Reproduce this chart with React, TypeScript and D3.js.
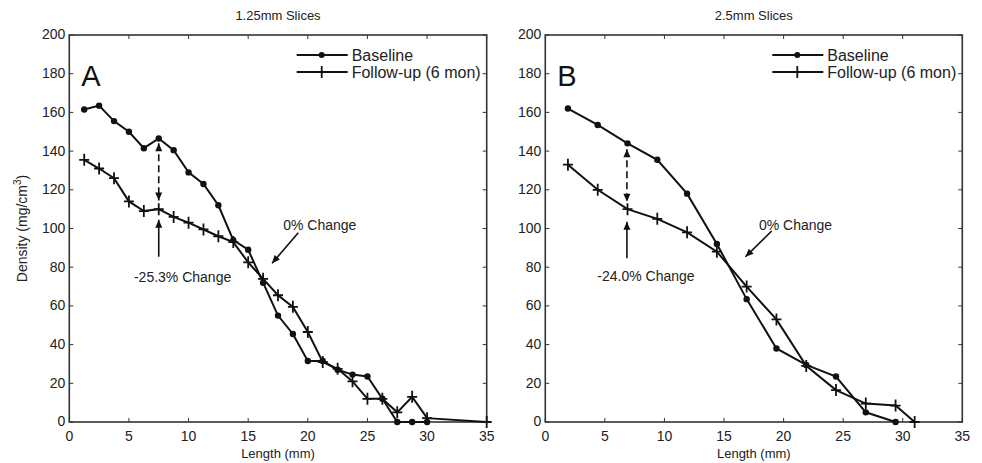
import { scaleLinear, line } from 'd3'

// values
const baseX_A = [1.25, 2.5, 3.75, 5, 6.25, 7.5, 8.75, 10, 11.25, 12.5, 13.75, 15, 16.25, 17.5, 18.75, 20, 21.25, 22.5, 23.75, 25, 26.25, 27.5, 28.75, 30]
const baseY_A = [161.5, 163.5, 155.5, 150, 141.5, 146.5, 140.5, 129, 123, 112, 94, 89, 72, 55, 45.5, 31.5, 31.5, 27, 24.5, 23.5, 12, 0, 0, 0]
const followX_A = [1.25, 2.5, 3.75, 5, 6.25, 7.5, 8.75, 10, 11.25, 12.5, 13.75, 15, 16.25, 17.5, 18.75, 20, 21.25, 22.5, 23.75, 25, 26.25, 27.5, 28.75, 30, 35]
const followY_A = [135.5, 131, 126, 114, 109, 110, 106, 103, 99.5, 96, 93, 82.5, 74, 65.5, 59.5, 46.5, 31, 27.5, 21, 12, 12, 5, 13, 2, 0]

const baseX_B = [1.9, 4.4, 6.9, 9.4, 11.9, 14.4, 16.9, 19.4, 21.9, 24.4, 26.9, 29.4]
const baseY_B = [162, 153.5, 144, 135.5, 118, 92, 63.5, 38, 29.5, 23.5, 5, 0]
const followX_B = [1.9, 4.4, 6.9, 9.4, 11.9, 14.4, 16.9, 19.4, 21.9, 24.4, 26.9, 29.4, 31]
const followY_B = [133, 120, 110, 105, 98, 88, 70, 53, 29, 16.5, 9.5, 8.5, 0]

const xTicks = [0, 5, 10, 15, 20, 25, 30, 35]
const yTicks = [0, 20, 40, 60, 80, 100, 120, 140, 160, 180, 200]
const legendLabels = ['Baseline', 'Follow-up (6 mon)']

const width = 982
const height = 463
const top = 35
const bottom = 422
const font = '"Liberation Sans", Arial, sans-serif'
const ink = '#111'
const grey = '#222'

type Pt = [number, number]
const zip = (xs: number[], ys: number[]): Pt[] => xs.map((x, i) => [x, ys[i]])

type PanelProps = {
    left: number
    right: number
    title: string
    letter: string
    base: Pt[]
    follow: Pt[]
    dashX: number
    dashTop: number
    dashBottom: number
    solidFrom: number
    solidTo: number
    changeLabel: string
    changeAt: Pt
    zeroFrom: Pt
    zeroTo: Pt
    zeroLabelAt: Pt
    yLabel?: boolean
}

let Arrow = ({ x1, y1, x2, y2, dashed, heads }: { x1: number, y1: number, x2: number, y2: number, dashed?: boolean, heads: 'end' | 'both' }) => {
    let ang = Math.atan2(y2 - y1, x2 - x1)
    let head = (x: number, y: number, a: number) => {
        let l = 8, w = 3.5
        let bx = x - l * Math.cos(a), by = y - l * Math.sin(a)
        let px = -Math.sin(a) * w, py = Math.cos(a) * w
        return `M${x},${y}L${bx + px},${by + py}L${bx - px},${by - py}Z`
    }
    return (
        <g>
            <line x1={x1} y1={y1} x2={x2} y2={y2} stroke={ink} strokeWidth={1.6}
                strokeDasharray={dashed ? '7,4' : undefined} />
            <path d={head(x2, y2, ang)} fill={ink} />
            {heads === 'both' && <path d={head(x1, y1, ang + Math.PI)} fill={ink} />}
        </g>
    )
}

let Panel = (p: PanelProps) => {
    let x = scaleLinear().domain([0, 35]).range([p.left, p.right])
    let y = scaleLinear().domain([0, 200]).range([bottom, top])
    let path = line<Pt>().x(d => x(d[0])).y(d => y(d[1]))
    let mid = (p.left + p.right) / 2

    let cross = (cx: number, cy: number, k: string) => (
        <path key={k} d={`M${cx - 5},${cy}H${cx + 5}M${cx},${cy - 6}V${cy + 6}`} stroke={ink} strokeWidth={1.8} />
    )

    let legX = p.right - 190
    return (
        <g fontFamily={font}>
            <text x={mid} y={20} textAnchor='middle' fontSize={13} fill={grey}>{p.title}</text>

            {/* ticks inside the box */}
            {xTicks.map(t => (
                <g key={'x' + t}>
                    <line x1={x(t)} x2={x(t)} y1={bottom} y2={bottom - 4} stroke='#333' />
                    <line x1={x(t)} x2={x(t)} y1={top} y2={top + 4} stroke='#333' />
                    <text x={x(t)} y={bottom + 19} textAnchor='middle' fontSize={14} fill={grey}>{t}</text>
                </g>
            ))}
            {yTicks.map(t => (
                <g key={'y' + t}>
                    <line x1={p.left} x2={p.left + 4} y1={y(t)} y2={y(t)} stroke='#333' />
                    <line x1={p.right} x2={p.right - 4} y1={y(t)} y2={y(t)} stroke='#333' />
                    <text x={p.left - 4} y={y(t)} dy='.32em' textAnchor='end' fontSize={14} fill={grey}>{t}</text>
                </g>
            ))}
            <rect x={p.left} y={top} width={p.right - p.left} height={bottom - top} fill='none' stroke='#333' strokeWidth={1.6} />

            <text x={mid} y={458} textAnchor='middle' fontSize={13} fill={grey}>Length (mm)</text>
            {p.yLabel && (
                <text transform={`translate(27,${(top + bottom) / 2}) rotate(-90)`} textAnchor='middle' fontSize={14} fill={grey}>
                    Density (mg/cm<tspan dy={-6} fontSize={10}>3</tspan><tspan dy={6}>)</tspan>
                </text>
            )}

            <text x={p.left + 12} y={86} fontSize={29} fill={ink}>{p.letter}</text>

            <path d={path(p.base) || ''} fill='none' stroke={ink} strokeWidth={2} />
            <path d={path(p.follow) || ''} fill='none' stroke={ink} strokeWidth={2} />
            {p.base.map((d, i) => <circle key={'b' + i} cx={x(d[0])} cy={y(d[1])} r={3.2} fill={ink} />)}
            {p.follow.map((d, i) => cross(x(d[0]), y(d[1]), 'f' + i))}

            {/* legend */}
            <line x1={legX} x2={legX + 51} y1={55} y2={55} stroke={ink} strokeWidth={1.8} />
            <circle cx={legX + 25} cy={55} r={3} fill={ink} />
            <text x={legX + 55} y={55} dy='.35em' fontSize={16} fill={grey}>{legendLabels[0]}</text>
            <line x1={legX} x2={legX + 51} y1={72} y2={72} stroke={ink} strokeWidth={1.8} />
            {cross(legX + 25, 72, 'leg')}
            <text x={legX + 55} y={72} dy='.35em' fontSize={16} fill={grey}>{legendLabels[1]}</text>

            {/* annotations */}
            <Arrow x1={x(p.dashX)} y1={y(p.dashBottom)} x2={x(p.dashX)} y2={y(p.dashTop)} dashed heads='both' />
            <Arrow x1={x(p.dashX)} y1={y(p.solidFrom)} x2={x(p.dashX)} y2={y(p.solidTo)} heads='end' />
            <text x={x(p.changeAt[0])} y={y(p.changeAt[1])} dy='.35em' textAnchor='middle' fontSize={14} fill={grey}>{p.changeLabel}</text>
            <Arrow x1={x(p.zeroFrom[0])} y1={y(p.zeroFrom[1])} x2={x(p.zeroTo[0])} y2={y(p.zeroTo[1])} heads='end' />
            <text x={x(p.zeroLabelAt[0])} y={y(p.zeroLabelAt[1])} dy='.35em' textAnchor='middle' fontSize={14} fill={grey}>0% Change</text>
        </g>
    )
}

let App = () => {
    return (
        <svg width={width} height={height} style={{ position: 'absolute', left: 0, top: 0, background: '#fff' }}>
            <Panel left={69.3} right={486.7} title='1.25mm Slices' letter='A'
                base={zip(baseX_A, baseY_A)} follow={zip(followX_A, followY_A)}
                dashX={7.5} dashTop={114.5} dashBottom={144} solidFrom={85.4} solidTo={104.5}
                changeLabel='-25.3% Change' changeAt={[9.5, 75]}
                zeroFrom={[19.2, 97.8]} zeroTo={[17.0, 82]} zeroLabelAt={[21.0, 101.5]} yLabel />
            <Panel left={545.3} right={962.3} title='2.5mm Slices' letter='B'
                base={zip(baseX_B, baseY_B)} follow={zip(followX_B, followY_B)}
                dashX={6.85} dashTop={113.8} dashBottom={141} solidFrom={84.6} solidTo={103.5}
                changeLabel='-24.0% Change' changeAt={[8.45, 75.5]}
                zeroFrom={[19.0, 98.7]} zeroTo={[16.8, 85.4]} zeroLabelAt={[21.0, 101.5]} />
        </svg>
    )
}

export default App
